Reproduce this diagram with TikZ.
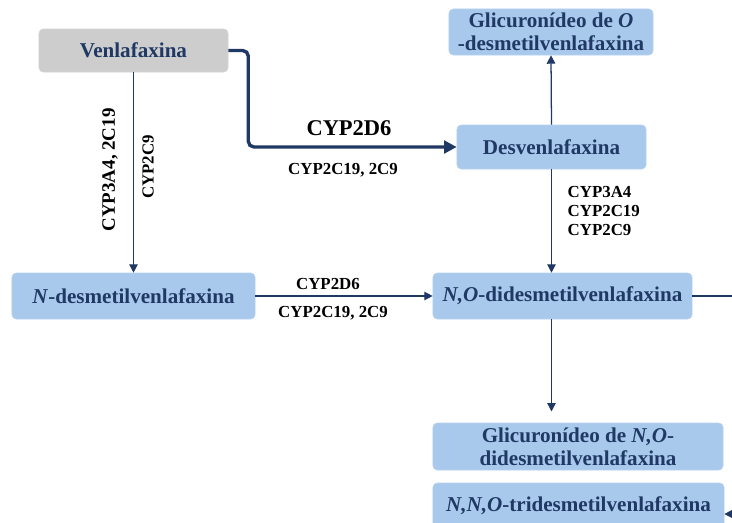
\documentclass[tikz,border=0pt]{standalone}
\usepackage{fontspec}
\setmainfont{Liberation Serif}
\usetikzlibrary{arrows.meta, positioning}
\definecolor{mydark}{RGB}{31,56,100}
\definecolor{hdrblue}{RGB}{169,201,236}
\definecolor{hdrgray}{RGB}{205,205,205}
\tikzset{
  block/.style={rectangle, fill=hdrblue, draw=hdrblue!85!white,
    text=mydark, align=center, inner sep=2pt, rounded corners=3pt,
    font=\bfseries\fontsize{15}{16.5}\selectfont},
  grayblock/.style={block, fill=hdrgray, draw=hdrgray!85!white},
  arrow/.style={-{Triangle[length=6pt, width=6pt]}, line width=0.9pt, color=mydark},
  thickarrow/.style={-{Triangle[length=9pt, width=9pt]}, line width=2.4pt,
    color=mydark, rounded corners=4pt},
  line/.style={line width=0.9pt, color=mydark},
  enzyme/.style={font=\bfseries\fontsize{12}{13.5}\selectfont, text=black, inner sep=1pt}
}
\begin{document}
\begin{tikzpicture}[x=0.025cm, y=-0.025cm]
  \useasboundingbox (0,0) rectangle (732,522);
  \clip (0,0) rectangle (732,522);

  % Compounds
  \node[grayblock, minimum width=4.725cm, minimum height=1.075cm] (venla) at (133.5,50.5) {Venlafaxina};
  \node[block, minimum width=5.1cm, minimum height=1.15cm] (glicO) at (551,32) {Glicuronídeo de \textit{O}\\-desmetilvenlafaxina};
  \node[block, minimum width=4.725cm, minimum height=1.1cm] (desv) at (551.5,147) {Desvenlafaxina};
  \node[block, minimum width=6.075cm, minimum height=1.15cm] (ndes) at (133.5,296) {\textit{N}-desmetilvenlafaxina};
  \node[block, minimum width=6.475cm, minimum height=1.15cm] (nodes) at (562.5,296) {\textit{N,O}-didesmetilvenlafaxina};
  \node[block, minimum width=7.25cm, minimum height=1.175cm] (glicNO) at (578,446.5) {Glicuronídeo de \textit{N,O}-\\didesmetilvenlafaxina};
  \node[block, minimum width=7.275cm, minimum height=1.15cm] (tri) at (578.5,506) {\textit{N,N,O}-tridesmetilvenlafaxina};

  % Main route via CYP2D6
  \draw[thickarrow] (venla.east) -- ++(20,0) |- (desv.west);
  \node[enzyme, font=\bfseries\fontsize{16}{18}\selectfont] (d6top) at (349,128) {CYP2D6};
  \node[enzyme] (c19top) at (343,170) {CYP2C19, 2C9};

  % N-demethylation
  \draw[arrow] (venla.south) -- (ndes.north);
  \node[enzyme, rotate=90, font=\bfseries\fontsize{13.5}{15}\selectfont] (c3a4left) at (110,170) {CYP3A4, 2C19};
  \node[enzyme, rotate=90] (c2c9left) at (148,167) {CYP2C9};

  % Desvenlafaxina branches
  \draw[arrow] (desv.north) -- (glicO.south);
  \draw[arrow] (desv.south) -- (desv.south |- nodes.north);
  \node[enzyme, anchor=west, align=left] (c3a4right) at (566,211) {CYP3A4\\CYP2C19\\CYP2C9};

  % N-desmetil to N,O-didesmetil
  \draw[arrow] (ndes.east) -- (nodes.west);
  \node[enzyme] (d6mid) at (328,284) {CYP2D6};
  \node[enzyme] (c19mid) at (333,313) {CYP2C19, 2C9};

  % Further steps
  \draw[arrow, shorten >=8pt] (desv.south |- nodes.south) -- (desv.south |- glicNO.north);
  \coordinate (outright) at (745,296);
  \draw[line] (nodes.east) -- (outright);
  \coordinate (inright) at (750,514);
  \draw[arrow] (inright) -- (tri.east |- inright);
\end{tikzpicture}
\end{document}
